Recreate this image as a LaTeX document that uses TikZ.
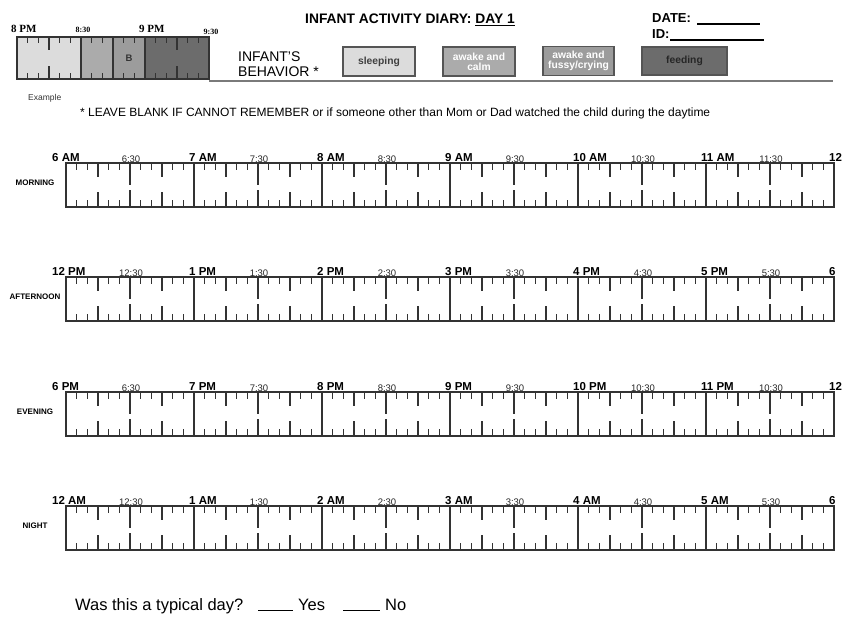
\documentclass[tikz,border=0pt]{standalone}
\usepackage{fontspec}
\setmainfont{Liberation Sans}
\newfontfamily\exserif{Liberation Serif}
\definecolor{csleep}{HTML}{DCDCDC}
\definecolor{ccalm}{HTML}{ABABAB}
\definecolor{cfuss}{HTML}{9C9C9C}
\definecolor{cfeed}{HTML}{6C6C6C}
\definecolor{cline}{HTML}{333333}
\definecolor{legline}{HTML}{555555}
\definecolor{crule}{HTML}{7A7A7A}
\newcommand\hourw{128}
\begin{document}
\begin{tikzpicture}[x=1pt,y=-1pt,
  tick/.style={line width=1.3pt,draw=cline},
  frame/.style={line width=2pt,draw=cline},
  hourlab/.style={font=\bfseries\fontsize{11.5}{12}\selectfont,inner sep=0pt,anchor=base west},
  halflab/.style={font=\fontsize{9.5}{10}\selectfont,text=black!85,inner sep=0pt,anchor=base},
  rowlab/.style={font=\bfseries\fontsize{8}{9}\selectfont,inner sep=0pt},
  legbox/.style={draw=legline,line width=1.5pt,minimum height=29pt,inner sep=0.5pt,align=center,font=\bfseries\fontsize{10.3}{9.8}\selectfont},
  exlab/.style={font=\exserif\bfseries\fontsize{11}{12}\selectfont,inner sep=0pt,anchor=base west},
  exsmall/.style={font=\exserif\bfseries\fontsize{8}{9}\selectfont,inner sep=0pt,anchor=base},
  plain/.style={inner sep=0pt,anchor=base west},
]
\useasboundingbox (0,0) rectangle (842,618);

% ---------- header ----------
\node[font=\bfseries\fontsize{13.8}{15}\selectfont,inner sep=0pt,anchor=base] (title) at (410,24) {INFANT ACTIVITY DIARY: \underline{DAY 1}};
\node[plain,font=\bfseries\fontsize{13}{14}\selectfont] (date) at (652,23) {DATE:};
\coordinate (dateA) at (697,24);
\coordinate (dateB) at (760,24);
\draw[line width=1.2pt] (dateA) -- (dateB);
\node[plain,font=\bfseries\fontsize{13}{14}\selectfont] (idl) at (652,39) {ID:};
\coordinate (idA) at (670,40);
\coordinate (idB) at (764,40);
\draw[line width=1.2pt] (idA) -- (idB);

\node[plain,font=\fontsize{14}{15}\selectfont] (beh1) at (238,61) {INFANT'S};
\node[plain,font=\fontsize{14}{15}\selectfont] (beh2) at (238,76) {BEHAVIOR *};

\node[legbox,fill=csleep,minimum width=72pt,text=black!75] (lsleep) at (379,61.5) {sleeping};
\node[legbox,fill=ccalm,minimum width=72pt,text=white] (lcalm) at (479,61.5) {awake and\\calm};
\node[legbox,fill=cfuss,minimum width=71pt,text=white] (lfuss) at (578.5,61) {awake and\\fussy/crying};
\node[legbox,fill=cfeed,minimum width=85pt,minimum height=28pt,text=black!85] (lfeed) at (684.5,61) {feeding};

\coordinate (ruleA) at (209,81);
\coordinate (ruleB) at (833,81);
\draw[crule,line width=2pt] (ruleA) -- (ruleB);

% example ruler
\fill[csleep] (17,37) rectangle (81,79);
\fill[ccalm] (81,37) rectangle (113,79);
\fill[cfuss] (113,37) rectangle (145,79);
\fill[cfeed] (145,37) rectangle (209,79);
\foreach \s in {1,2,4,5,7,8,10,11,13,14,16,17}{
  \draw[tick] ({17+\s*\hourw/12},37) -- ++(0,6);
  \draw[tick] ({17+\s*\hourw/12},79) -- ++(0,-6);
}
\foreach \s in {3,15}{
  \draw[tick] ({17+\s*\hourw/12},37) -- ++(0,13);
  \draw[tick] ({17+\s*\hourw/12},79) -- ++(0,-13);
}
\draw[frame] (17,37) rectangle (81,79);
\draw[frame] (81,37) rectangle (113,79);
\draw[frame] (113,37) rectangle (145,79);
\draw[frame] (145,37) rectangle (209,79);
\node[font=\bfseries\fontsize{9.5}{10}\selectfont,text=black!80] (bseg) at (129,58) {B};
\node[exlab] (ex8) at (11,33) {8 PM};
\node[exsmall] (ex830) at (83,33) {8:30};
\node[exlab] (ex9) at (139,33) {9 PM};
\node[exsmall] (ex930) at (211,35) {9:30};
\node[plain,font=\fontsize{8.5}{9}\selectfont,text=black!80] (exname) at (28,100) {Example};

\node[plain,font=\fontsize{12}{13}\selectfont] (note) at (80,116) {* LEAVE BLANK IF CANNOT REMEMBER or if someone other than Mom or Dad watched the child during the daytime};

% ---------- day rows ----------
\foreach \T/\nm/\rn/\hrs/\halves/\last in {
  163/mor/MORNING/{6 AM,7 AM,8 AM,9 AM,10 AM,11 AM}/{6:30,7:30,8:30,9:30,10:30,11:30}/12,
  277/aft/AFTERNOON/{12 PM,1 PM,2 PM,3 PM,4 PM,5 PM}/{12:30,1:30,2:30,3:30,4:30,5:30}/6,
  392/eve/EVENING/{6 PM,7 PM,8 PM,9 PM,10 PM,11 PM}/{6:30,7:30,8:30,9:30,10:30,10:30}/12,
  506/nig/NIGHT/{12 AM,1 AM,2 AM,3 AM,4 AM,5 AM}/{12:30,1:30,2:30,3:30,4:30,5:30}/6}{
  \foreach \h in {0,...,5}{
    \foreach \s in {1,2,4,5,7,8,10,11}{
      \draw[tick] ({66+(12*\h+\s)*\hourw/12},\T) -- ++(0,7);
      \draw[tick] ({66+(12*\h+\s)*\hourw/12},\T+44) -- ++(0,-7);
    }
    \foreach \s in {3,9}{
      \draw[tick] ({66+(12*\h+\s)*\hourw/12},\T) -- ++(0,14);
      \draw[tick] ({66+(12*\h+\s)*\hourw/12},\T+44) -- ++(0,-15);
    }
    \draw[tick] ({66+(12*\h+6)*\hourw/12},\T) -- ++(0,22);
    \draw[tick] ({66+(12*\h+6)*\hourw/12},\T+44) -- ++(0,-17);
  }
  \foreach \h in {1,...,5}{
    \draw[frame] ({66+\h*\hourw},\T) -- ++(0,44);
  }
  \draw[frame] (66,\T) rectangle (834,\T+44);
  \node[rowlab] (rn-\nm) at (35,\T+20) {\rn};
  \foreach \lab [count=\k from 0] in \hrs{
    \ifnum\k=0
      \node[hourlab] (hl-\nm-\k) at (52,\T-2) {\lab};
    \else
      \node[hourlab] (hl-\nm-\k) at ({66+\k*\hourw-5},\T-2) {\lab};
    \fi
  }
  \node[hourlab] (hl-\nm-end) at (829,\T-2) {\last};
  \foreach \lab [count=\k from 0] in \halves{
    \node[halflab] (hh-\nm-\k) at ({66+(\k+0.5)*\hourw+1},\T-0.5) {\lab};
  }
}

% ---------- bottom question ----------
\node[plain,font=\fontsize{16.5}{18}\selectfont] (q) at (75,610) {Was this a typical day?};
\coordinate (y1) at (258,610);
\coordinate (y2) at (293,610);
\draw[line width=1pt] (y1) -- (y2);
\node[plain,font=\fontsize{16.5}{18}\selectfont] (yes) at (298,610) {Yes};
\coordinate (n1) at (343,610);
\coordinate (n2) at (380,610);
\draw[line width=1pt] (n1) -- (n2);
\node[plain,font=\fontsize{16.5}{18}\selectfont] (no) at (385,610) {No};
\end{tikzpicture}
\end{document}
